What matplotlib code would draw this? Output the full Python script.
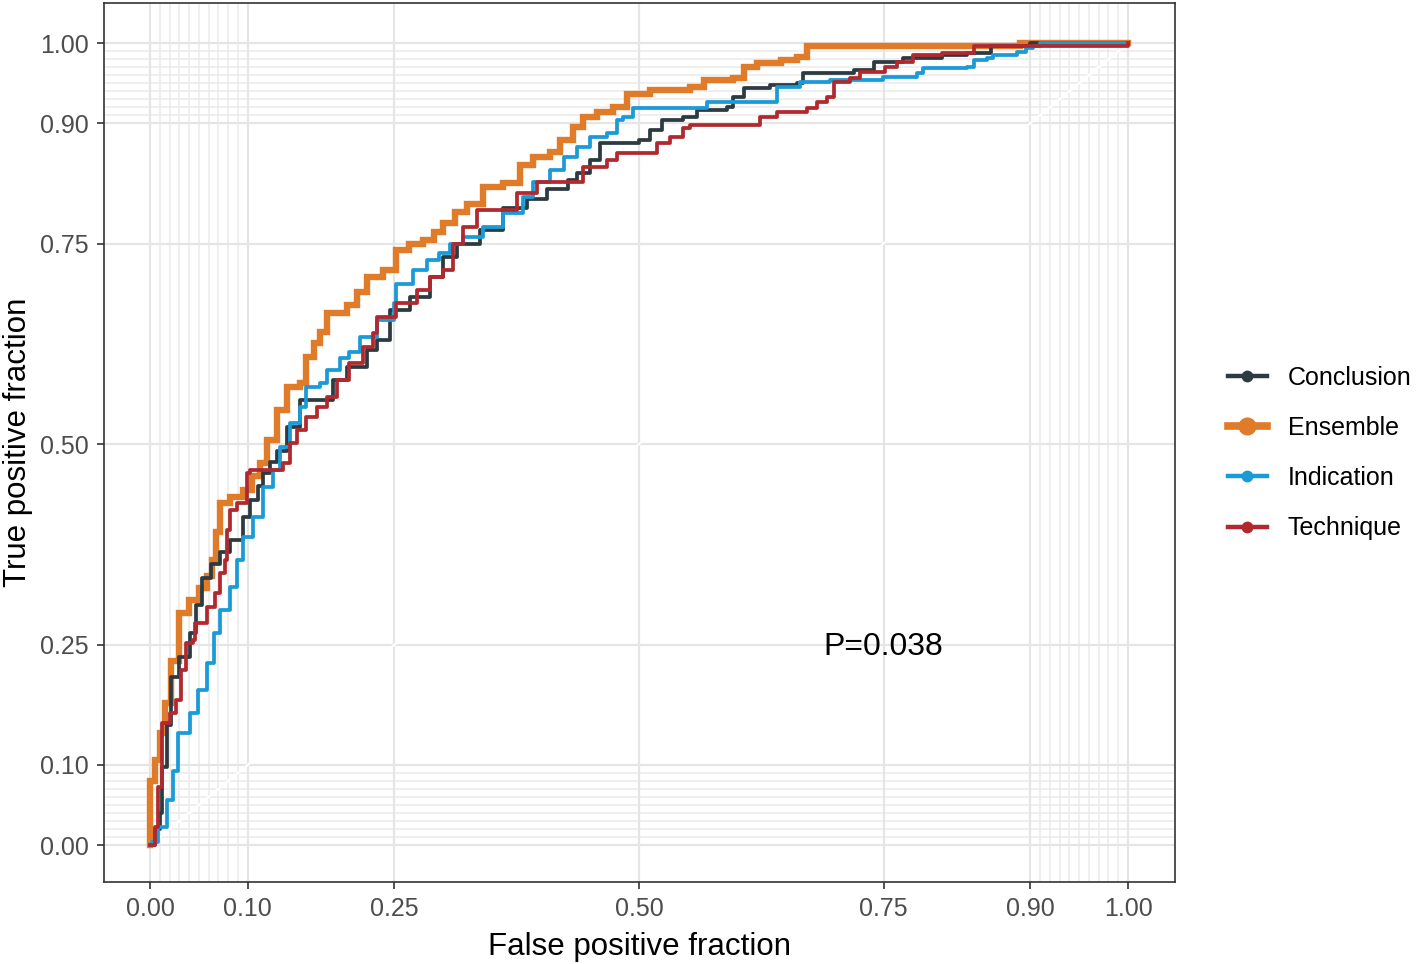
import matplotlib
matplotlib.use('Agg')
import matplotlib.pyplot as plt
from matplotlib.lines import Line2D
import numpy as np

plt.rcParams['font.family'] = ['Liberation Sans', 'DejaVu Sans']

# ROC points (false positive fraction, true positive fraction)
ens_fpr = [0, 0, 0.005, 0.01, 0.015, 0.022, 0.03, 0.04, 0.05, 0.058, 0.063, 0.068, 0.072, 0.082, 0.095,
           0.104, 0.112, 0.12, 0.13, 0.14, 0.153, 0.16, 0.168, 0.174, 0.181, 0.201, 0.212, 0.222, 0.238,
           0.252, 0.265, 0.279, 0.29, 0.3, 0.312, 0.324, 0.34, 0.361, 0.378, 0.392, 0.409, 0.419, 0.432,
           0.443, 0.457, 0.473, 0.488, 0.511, 0.552, 0.566, 0.596, 0.607, 0.621, 0.645, 0.662, 0.672,
           0.89, 0.89, 1.0]
ens_tpr = [0, 0.08, 0.106, 0.14, 0.177, 0.23, 0.29, 0.305, 0.32, 0.335, 0.355, 0.39, 0.426, 0.434, 0.443,
           0.46, 0.476, 0.505, 0.542, 0.571, 0.576, 0.608, 0.626, 0.64, 0.663, 0.673, 0.69, 0.708, 0.717,
           0.742, 0.75, 0.754, 0.765, 0.776, 0.79, 0.80, 0.82, 0.825, 0.848, 0.858, 0.864, 0.879, 0.895,
           0.908, 0.914, 0.92, 0.937, 0.941, 0.945, 0.954, 0.956, 0.97, 0.975, 0.979, 0.983, 0.996,
           0.996, 1.0, 1.0]

con_fpr = [0, 0.005, 0.01, 0.012, 0.017, 0.022, 0.03, 0.041, 0.047, 0.053, 0.062, 0.072, 0.082, 0.095,
           0.102, 0.11, 0.116, 0.123, 0.13, 0.14, 0.153, 0.175, 0.187, 0.201, 0.222, 0.232, 0.245, 0.266,
           0.286, 0.3, 0.314, 0.337, 0.361, 0.385, 0.406, 0.427, 0.437, 0.45, 0.46, 0.5, 0.511, 0.524,
           0.545, 0.559, 0.59, 0.596, 0.607, 0.634, 0.662, 0.668, 0.72, 0.74, 0.77, 0.80, 0.81, 0.835,
           0.86, 0.9, 1.0]
con_tpr = [0, 0.02, 0.04, 0.097, 0.15, 0.21, 0.235, 0.264, 0.30, 0.333, 0.35, 0.365, 0.38, 0.409,
           0.43, 0.448, 0.464, 0.478, 0.492, 0.521, 0.555, 0.555, 0.58, 0.596, 0.617, 0.63, 0.667, 0.683,
           0.708, 0.733, 0.75, 0.767, 0.794, 0.806, 0.818, 0.829, 0.838, 0.854, 0.875, 0.879, 0.892, 0.904,
           0.908, 0.916, 0.92, 0.933, 0.944, 0.948, 0.95, 0.963, 0.966, 0.976, 0.981, 0.981, 0.985, 0.988,
           0.997, 1.0, 1.0]

ind_fpr = [0, 0.002, 0.008, 0.017, 0.024, 0.029, 0.041, 0.049, 0.058, 0.065, 0.072, 0.082, 0.089, 0.095,
           0.105, 0.116, 0.126, 0.133, 0.143, 0.153, 0.16, 0.174, 0.181, 0.194, 0.204, 0.215, 0.232, 0.249,
           0.252, 0.269, 0.283, 0.296, 0.307, 0.32, 0.34, 0.361, 0.381, 0.392, 0.409, 0.423, 0.437, 0.45,
           0.467, 0.477, 0.484, 0.494, 0.559, 0.57, 0.63, 0.641, 0.665, 0.695, 0.749, 0.784, 0.79, 0.835,
           0.842, 0.856, 0.862, 0.886, 0.896, 0.903, 0.91, 1.0]
ind_tpr = [0, 0.004, 0.022, 0.056, 0.093, 0.14, 0.165, 0.193, 0.227, 0.264, 0.293, 0.322, 0.355, 0.384,
           0.409, 0.446, 0.468, 0.496, 0.526, 0.546, 0.571, 0.576, 0.592, 0.607, 0.615, 0.633, 0.655, 0.676,
           0.70, 0.717, 0.729, 0.738, 0.75, 0.758, 0.771, 0.788, 0.808, 0.827, 0.842, 0.858, 0.87, 0.883,
           0.888, 0.904, 0.908, 0.919, 0.919, 0.927, 0.927, 0.945, 0.951, 0.954, 0.958, 0.963, 0.969, 0.97,
           0.979, 0.981, 0.985, 0.989, 0.994, 0.996, 1.0, 1.0]

tec_fpr = [0, 0.005, 0.008, 0.012, 0.02, 0.027, 0.032, 0.037, 0.044, 0.046, 0.058, 0.066, 0.072, 0.077,
           0.079, 0.082, 0.089, 0.099, 0.102, 0.126, 0.136, 0.143, 0.15, 0.16, 0.171, 0.181, 0.191, 0.204,
           0.218, 0.228, 0.232, 0.252, 0.273, 0.286, 0.3, 0.31, 0.32, 0.334, 0.361, 0.375, 0.396, 0.433,
           0.443, 0.467, 0.477, 0.508, 0.518, 0.532, 0.545, 0.552, 0.613, 0.624, 0.641, 0.672, 0.682,
           0.692, 0.699, 0.716, 0.726, 0.752, 0.764, 0.78, 0.81, 0.842, 0.995, 1.0]
tec_tpr = [0, 0.022, 0.072, 0.152, 0.165, 0.181, 0.218, 0.252, 0.256, 0.277, 0.297, 0.314, 0.339, 0.355,
           0.393, 0.418, 0.426, 0.464, 0.468, 0.468, 0.476, 0.501, 0.517, 0.534, 0.546, 0.559, 0.58, 0.601,
           0.621, 0.638, 0.658, 0.676, 0.692, 0.708, 0.717, 0.75, 0.771, 0.792, 0.792, 0.813, 0.827, 0.827,
           0.846, 0.854, 0.863, 0.863, 0.875, 0.883, 0.894, 0.898, 0.898, 0.908, 0.914, 0.919, 0.927,
           0.933, 0.951, 0.956, 0.964, 0.97, 0.976, 0.985, 0.988, 0.997, 0.997, 1.0]

names = ['Conclusion', 'Ensemble', 'Indication', 'Technique']
colors = ['#2c3b41', '#e07b2a', '#1a9ad6', '#b0292f']

major = [0, 0.1, 0.25, 0.5, 0.75, 0.9, 1.0]
minor = [i / 100 for i in range(1, 10)] + [i / 100 for i in range(91, 100)]

fig = plt.figure(figsize=(14.17, 9.64), dpi=100)
ax = fig.add_axes([104 / 1417, 1 - 882 / 964, (1175 - 104) / 1417, (882 - 3) / 964])

for v in minor:
    ax.axvline(v, color='#ebebeb', lw=1.1, zorder=0)
    ax.axhline(v, color='#ebebeb', lw=1.1, zorder=0)
for v in major:
    ax.axvline(v, color='#e5e5e5', lw=1.6, zorder=0)
    ax.axhline(v, color='#e5e5e5', lw=1.6, zorder=0)

ax.plot([0, 1], [0, 1], color='white', lw=1.6, zorder=1)

ax.plot(ens_fpr, ens_tpr, drawstyle='steps-post', color=colors[1], lw=4.6, zorder=2,
        solid_joinstyle='miter')
ax.plot(con_fpr, con_tpr, drawstyle='steps-post', color=colors[0], lw=2.7, zorder=3)
ax.plot(ind_fpr, ind_tpr, drawstyle='steps-post', color=colors[2], lw=2.7, zorder=4)
ax.plot(tec_fpr, tec_tpr, drawstyle='steps-post', color=colors[3], lw=2.7, zorder=5)

ax.text(0.75, 0.247, 'P=0.038', ha='center', va='center', fontsize=23, color='black')

ax.set_xlim(-0.047, 1.048)
ax.set_ylim(-0.046, 1.05)
ax.set_xticks(major)
ax.set_yticks(major)
ax.set_xticklabels(['%.2f' % v for v in major])
ax.set_yticklabels(['%.2f' % v for v in major])
ax.tick_params(length=5, width=1.2, color='#333333', labelcolor='#4d4d4d', labelsize=18, pad=6)
for s in ax.spines.values():
    s.set_color('#333333')
    s.set_linewidth(1.2)

ax.set_xlabel('False positive fraction', fontsize=22.5, labelpad=8)
ax.set_ylabel('True positive fraction', fontsize=22.5, labelpad=5)

handles = []
for n, c in zip(names, colors):
    big = n == 'Ensemble'
    handles.append(Line2D([0], [0], color=c, lw=5.5 if big else 3.2, marker='o',
                          markersize=12 if big else 7.5, markerfacecolor=c, markeredgecolor=c))
fig.legend(handles, names, loc='center left', bbox_to_anchor=(1228 / 1417, 1 - 453 / 964),
           frameon=False, fontsize=18, handlelength=1.55, handletextpad=0.85, labelspacing=1.05,
           borderpad=0, borderaxespad=0)

fig.savefig('out.png', dpi=100)
